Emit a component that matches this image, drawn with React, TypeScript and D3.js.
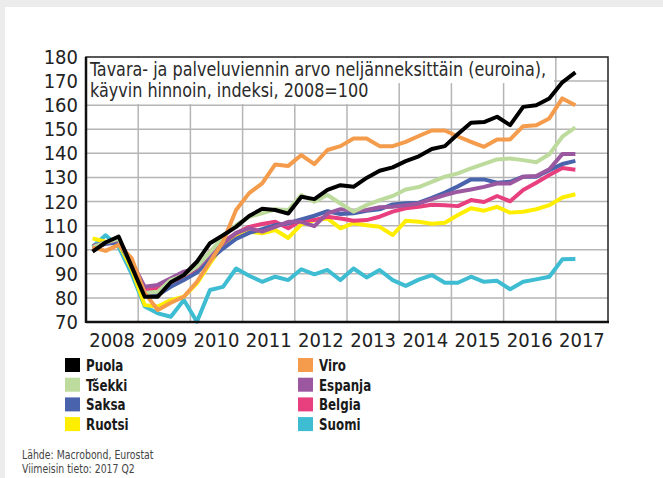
import React from 'react';
import * as d3 from 'd3';

// quarterly values, 2008Q1 .. 2017Q2 (index 2008=100)
const years = [2008, 2009, 2010, 2011, 2012, 2013, 2014, 2015, 2016, 2017];
const yTicks = [70, 80, 90, 100, 110, 120, 130, 140, 150, 160, 170, 180];

const puola = [99.2, 103, 105.5, 93, 80.5, 80.5, 86.5, 89.5, 95, 102.7, 106, 109.5, 114, 117, 116.5, 115, 122, 121, 124.8, 126.8, 126.1, 129.8, 132.8, 134.2, 136.8, 138.8, 141.8, 143, 148, 152.7, 153, 155.2, 151.7, 159.3, 160, 162.8, 169.5, 173.6];
const tsekki = [101, 103, 104.5, 93.5, 82, 82.6, 87.4, 89.5, 93, 99, 105.4, 110.2, 113.7, 115.1, 116.8, 116.5, 122.7, 119.9, 122.7, 119.2, 115.8, 118.5, 120.6, 122.3, 125, 126, 128.2, 130.3, 131.7, 133.8, 135.6, 137.5, 137.9, 137.2, 136.3, 139.6, 146.9, 150.8];
const saksa = [101, 102.5, 103, 94, 81.2, 81.2, 84.6, 87.4, 90.5, 96, 100.5, 104.5, 107, 108.5, 110.2, 111, 112.6, 114.1, 116, 114.8, 115.1, 116.2, 116.8, 118.8, 119.3, 119.5, 121.5, 123.7, 126.3, 129.2, 129.2, 127.8, 128.2, 130.3, 130.3, 133, 135.6, 136.9];
const ruotsi = [104.7, 103.3, 102.6, 92, 77, 76.4, 79.1, 80.5, 86, 94.3, 102, 106, 107.5, 106.8, 108.2, 104.9, 110.5, 112.3, 113, 108.9, 111, 110.2, 109.5, 106.1, 112, 111.6, 110.8, 111.2, 114.4, 117.2, 116.2, 117.8, 115.4, 115.8, 116.8, 118.5, 121.7, 123];
const viro = [101, 99.5, 102, 96.5, 82, 75, 78, 80.5, 86.7, 95, 103.3, 116.5, 123.5, 127.5, 135.4, 134.8, 139.3, 135.5, 141.4, 143, 146.2, 146.2, 143, 143, 144.8, 147.2, 149.5, 149.5, 147, 144.8, 142.7, 145.8, 145.8, 151.3, 151.7, 154.5, 162.8, 160];
const espanja = [101.5, 103, 104, 95, 84.6, 85.4, 88.1, 90.9, 92.2, 98, 102.5, 107, 108.9, 107.5, 109.5, 111.6, 111.6, 109.8, 115.1, 116.8, 116.2, 116.5, 117.6, 117.8, 118.5, 119.2, 121, 122.7, 124.1, 125, 126.1, 127.5, 127.5, 130.3, 130.6, 133.4, 139.7, 139.7];
const belgia = [100.5, 102.5, 103.5, 94.5, 83.3, 84, 86.7, 88.8, 91.8, 99.2, 103.4, 106.8, 109.5, 110.7, 111.6, 108.9, 112.3, 112.3, 113.7, 113, 112, 112.3, 113.7, 115.8, 117.2, 117.8, 118.7, 118.5, 118.1, 120.6, 119.8, 122.3, 120.1, 124.8, 127.8, 131, 133.9, 133.2];
const suomi = [101.2, 106, 101.2, 90, 76.4, 73.6, 72.2, 79.1, 70.1, 83.3, 84.6, 92.2, 89.2, 86.7, 88.8, 87.4, 91.9, 89.8, 91.6, 87.4, 92.2, 88.5, 91.6, 87.4, 85, 87.6, 89.5, 86.3, 86.3, 88.8, 86.7, 87.1, 83.6, 86.7, 87.7, 88.8, 96, 96.1];

const series = [
  { name: 'Puola', values: puola, color: '#000000' },
  { name: 'Tšekki', values: tsekki, color: '#bedb9e' },
  { name: 'Saksa', values: saksa, color: '#4a63ad' },
  { name: 'Ruotsi', values: ruotsi, color: '#ffee00' },
  { name: 'Viro', values: viro, color: '#f49b4c' },
  { name: 'Espanja', values: espanja, color: '#9b58a0' },
  { name: 'Belgia', values: belgia, color: '#e8407f' },
  { name: 'Suomi', values: suomi, color: '#3dbcd2' },
];
const drawOrder = ['Suomi', 'Ruotsi', 'Belgia', 'Saksa', 'Espanja', 'Tšekki', 'Viro', 'Puola'];

const font = '"DejaVu Sans Condensed", "DejaVu Sans", sans-serif';

export default function App() {
  const left = 86, right = 608, top = 57, bottom = 322;

  const x = d3.scaleLinear().domain([0, years.length * 4]).range([left, right]);
  const y = d3.scaleLinear().domain([70, 180]).range([bottom, top]);

  const line = d3.line<number>()
    .x((d, i) => x(i + 0.5))
    .y((d) => y(d));

  return (
    <svg width={663} height={478} style={{ position: 'absolute', left: 0, top: 0, background: '#fff' }}>
      <rect x={0} y={0} width={663} height={7} fill="#ececec" />
      <rect x={0} y={0} width={5} height={478} fill="#ececec" />

      {/* grid */}
      {yTicks.slice(1, -1).map((t) => (
        <line key={'h' + t} x1={left} x2={right} y1={y(t)} y2={y(t)} stroke="#b5b5b5" strokeWidth={1.5} />
      ))}
      {years.slice(1).map((yr, i) => (
        <line key={'v' + yr} x1={x((i + 1) * 4)} x2={x((i + 1) * 4)} y1={top} y2={bottom} stroke="#b5b5b5" strokeWidth={1.5} />
      ))}

      {/* title box */}
      <rect x={left + 1} y={top + 1} width={553 - left} height={y(170) + 1 - top} fill="#fff" />
      <rect x={left + 1} y={y(170)} width={380 - left} height={104 - y(170)} fill="#fff" />
      <g transform="translate(90,0) scale(0.89,1)" fontFamily={font} fontSize={20} fill="#2a2a2a">
        <text x={0} y={76}>Tavara- ja palveluviennin arvo neljänneksittäin (euroina),</text>
        <text x={0} y={97}>käyvin hinnoin, indeksi, 2008=100</text>
      </g>

      {/* series */}
      {drawOrder.map((n) => {
        const s = series.find((d) => d.name === n)!;
        return (
          <path key={n} d={line(s.values) || ''} fill="none" stroke={s.color} strokeWidth={4} strokeLinejoin="round" />
        );
      })}

      {/* frame */}
      <rect x={left} y={top} width={right - left} height={bottom - top} fill="none" stroke="#222" strokeWidth={1.5} />
      <line x1={left} x2={left} y1={top} y2={bottom + 1} stroke="#111" strokeWidth={2.5} />
      <line x1={left} x2={right + 1} y1={bottom} y2={bottom} stroke="#111" strokeWidth={2.5} />

      {/* y labels */}
      {yTicks.map((t) => (
        <text key={'yl' + t} x={78} y={y(t) + 7} textAnchor="end" fontFamily={font} fontSize={20} fill="#222">
          {t}
        </text>
      ))}
      {/* x labels */}
      {years.map((yr, i) => (
        <text key={'xl' + yr} x={x(i * 4 + 2)} y={347} textAnchor="middle" fontFamily={font} fontSize={20} fill="#222">
          {yr}
        </text>
      ))}

      {/* legend */}
      {series.map((s, i) => {
        const col = Math.floor(i / 4);
        const row = i % 4;
        const lx = col === 0 ? 65 : 298;
        const ly = 358 + row * 19.7;
        return (
          <g key={'lg' + s.name}>
            <rect x={lx} y={ly} width={15} height={14} fill={s.color} />
            <g transform={`translate(${lx + 21},${ly + 13}) scale(0.88,1)`}>
              <text x={0} y={0} fontFamily={font} fontSize={15} fontWeight="bold" fill="#1a1a1a">
                {s.name}
              </text>
            </g>
          </g>
        );
      })}

      <g transform="translate(22,0) scale(0.8,1)" fontFamily={font} fontSize={13} fill="#444">
        <text x={0} y={459}>Lähde: Macrobond, Eurostat</text>
        <text x={0} y={473}>Viimeisin tieto: 2017 Q2</text>
      </g>
    </svg>
  );
}
